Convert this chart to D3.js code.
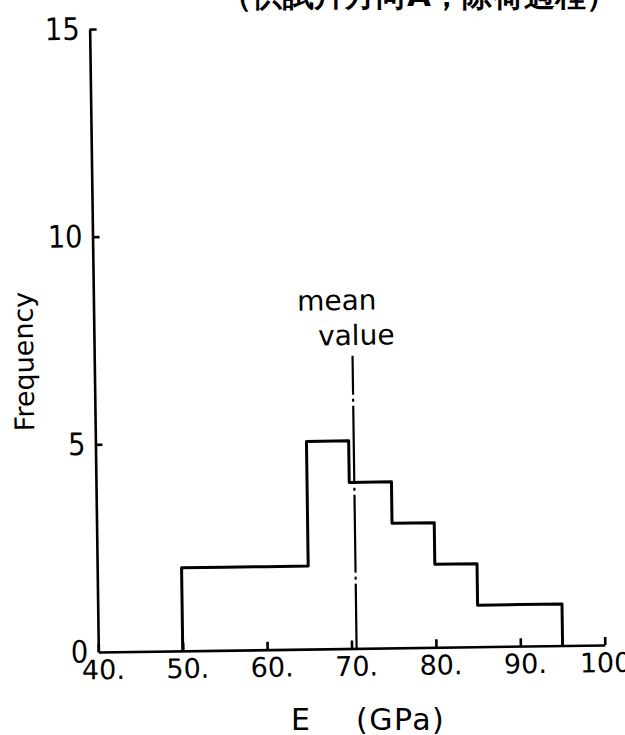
<!DOCTYPE html>
<html>
<head>
<meta charset="utf-8">
<script src="https://cdn.jsdelivr.net/npm/d3@7"></script>
<style>
  html, body { margin: 0; padding: 0; background: #fff; }
  svg { display: block; }
  text { fill: #000; font-family: "DejaVu Sans", sans-serif; }
</style>
</head>
<body>
<svg id="chart" width="625" height="735"></svg>
<script>
// Histogram of Young's modulus E (GPa): bin starts, bin width and counts
const binStarts = [50, 55, 60, 65, 70, 75, 80, 85, 90];
const binWidth = 5;
const counts = [2, 2, 2, 5, 4, 3, 2, 1, 1];

// Mean value marker
const meanValue = 70.6;
const meanLineTop = 7.05;

// Axis ticks
const xTicks = [40, 50, 60, 70, 80, 90, 100];
const yTicks = [0, 5, 10, 15];

const titleText = "（供試片方向A，除荷過程）";

const svg = d3.select("#chart");

// Title line along the top edge
svg.append("text")
  .attr("x", 221)
  .attr("y", 6)
  .attr("font-family", "'Noto Sans CJK JP', 'Noto Sans CJK TC', sans-serif")
  .attr("font-weight", "bold")
  .attr("font-size", 31)
  .text(titleText);

// Plot group, slightly tilted like a hand-plotted sheet
const g = svg.append("g").attr("transform", "rotate(-0.8, 350, 340)");

const x = d3.scaleLinear().domain([40, 100]).range([94, 600.5]);
const y = d3.scaleLinear().domain([0, 15]).range([648.5, 25.5]);

// X axis with inward ticks
const xAxis = g.append("g")
  .attr("transform", `translate(0,${y(0)})`)
  .call(d3.axisBottom(x).tickValues(xTicks).tickSizeInner(-8).tickSizeOuter(0)
    .tickPadding(8).tickFormat(d => d + "."));
xAxis.select(".domain").attr("stroke", "#000").attr("stroke-width", 2.6);
xAxis.selectAll(".tick line").attr("stroke", "#000").attr("stroke-width", 2.6);
xAxis.selectAll(".tick text")
  .attr("font-size", 27)
  .attr("font-family", "'DejaVu Sans', sans-serif")
  .attr("dx", 4.3)
  .attr("fill", "#000");

// Y axis with inward ticks
const yAxis = g.append("g")
  .attr("transform", `translate(${x(40)},0)`)
  .call(d3.axisLeft(y).tickValues(yTicks).tickSizeInner(-7).tickSizeOuter(0)
    .tickPadding(10).tickFormat(d3.format("d")));
yAxis.select(".domain").attr("stroke", "#000").attr("stroke-width", 2.6);
yAxis.selectAll(".tick line").attr("stroke", "#000").attr("stroke-width", 2.6);
yAxis.selectAll(".tick line").filter(d => d === 0).remove();
yAxis.selectAll(".tick text")
  .attr("font-size", 31)
  .attr("font-family", "'DejaVu Sans', sans-serif")
  .attr("x", -10 / 0.88)
  .attr("transform", "scale(0.88,1)")
  .attr("fill", "#000");

// Histogram outline
const pts = [[binStarts[0], 0]]
  .concat(binStarts.map((b, i) => [b, counts[i]]))
  .concat([[binStarts[binStarts.length - 1] + binWidth, 0]]);
const stepLine = d3.line()
  .x(d => x(d[0]))
  .y(d => y(d[1]))
  .curve(d3.curveStepAfter);
g.append("path")
  .attr("d", stepLine(pts))
  .attr("fill", "none")
  .attr("stroke", "#000")
  .attr("stroke-width", 3)
  .attr("stroke-linejoin", "round");

// Mean value line (long dash-dot)
g.append("line")
  .attr("x1", x(meanValue)).attr("x2", x(meanValue))
  .attr("y1", y(meanLineTop)).attr("y2", y(0))
  .attr("stroke", "#000")
  .attr("stroke-width", 2.2)
  .attr("stroke-dasharray", "78 4 3 4")
  .attr("stroke-dashoffset", 39);

g.append("text")
  .attr("x", x(meanValue) - 15)
  .attr("y", 310)
  .attr("text-anchor", "middle")
  .attr("font-size", 28)
  .text("mean");
g.append("text")
  .attr("x", x(meanValue) + 4)
  .attr("y", 345)
  .attr("text-anchor", "middle")
  .attr("font-size", 28)
  .text("value");

// Axis titles
g.append("text")
  .attr("transform", "translate(33,357) rotate(-90)")
  .attr("text-anchor", "middle")
  .attr("font-size", 27)
  .text("Frequency");

const xt = svg.append("text")
  .attr("y", 730)
  .attr("font-size", 30);
xt.append("tspan").attr("x", 291).text("E");
xt.append("tspan").attr("x", 356).attr("letter-spacing", 1.5).text("(GPa)");
</script>
</body>
</html>
